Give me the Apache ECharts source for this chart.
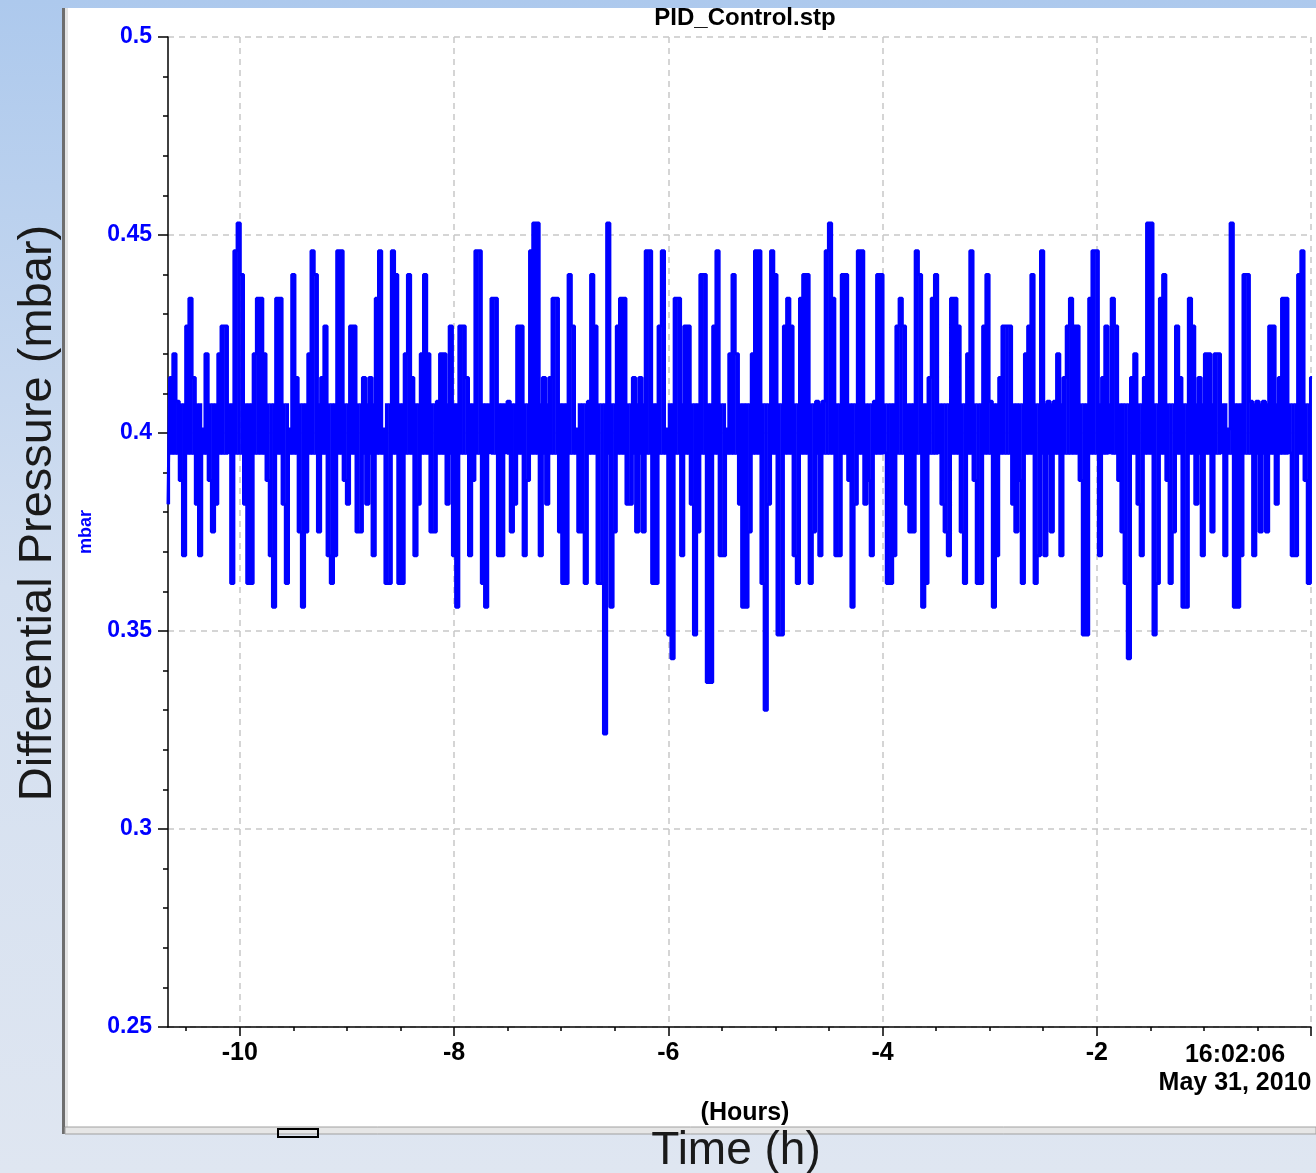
<!DOCTYPE html>
<html>
<head>
<meta charset="utf-8">
<title>PID_Control.stp</title>
<script src="https://cdn.jsdelivr.net/npm/echarts@6/dist/echarts.min.js"></script>
<style>
    html, body { margin: 0; padding: 0; }
    body { background: linear-gradient(to bottom, #adc9ed 0%, #d3dff0 50%, #dfe6f1 100%); }
    #main { width: 1316px; height: 1173px; }
</style>
</head>
<body>
<div id="main"></div>
<script>
// differential pressure (mbar), one sample every DT hours starting at T0
var T0 = -10.67, DT = 0.03;
// controller setpoint, the level the trace swings around, and one ADC count
var SETPOINT = 0.401, COUNT = 0.0065;

var dp1 = [.382,.414,.420,.408,.388,.369,.427,.434,.414,.382,.369,.401,.420,.388,.375,.382,.420,.427,.427,.395,.362,.446,.453,.440,.382,.362,.362,.420,.434,.434,.420,.388,.369,.356,.434,.434,.382,.362,.401,.440,.414,.375,.356,.375,.420,.446];
var dp2 = [.440,.375,.414,.427,.369,.362,.369,.446,.446,.388,.382,.427,.427,.375,.375,.414,.382,.414,.369,.434,.446,.401,.362,.362,.446,.440,.362,.362,.420,.440,.414,.369,.382,.420,.440,.420,.375,.375,.408,.420,.420,.382,.427,.369,.356];
var dp3 = [.427,.427,.414,.369,.388,.446,.446,.362,.356,.395,.434,.434,.369,.369,.395,.408,.375,.382,.427,.427,.369,.388,.446,.453,.453,.369,.414,.382,.414,.434,.434,.375,.362,.362,.440,.427,.401,.375,.375,.362,.408,.440,.427,.362,.362];
var dp4 = [.324,.453,.356,.375,.427,.434,.434,.382,.382,.414,.375,.414,.375,.446,.446,.362,.362,.427,.446,.401,.349,.343,.434,.434,.369,.427,.427,.382,.349,.375,.440,.440,.337,.337,.427,.446,.369,.369,.401,.420,.440,.420,.382,.356,.356];
var dp5 = [.375,.420,.446,.446,.362,.330,.382,.446,.440,.349,.349,.427,.434,.427,.369,.362,.434,.440,.440,.362,.375,.408,.369,.408,.446,.453,.434,.369,.369,.440,.440,.388,.356,.382,.446,.446,.382,.388,.369,.408,.440,.440,.395,.362,.362];
var dp6 = [.369,.427,.434,.427,.382,.375,.375,.446,.440,.356,.362,.414,.434,.440,.395,.382,.375,.369,.434,.434,.427,.375,.362,.420,.446,.388,.362,.362,.427,.440,.408,.356,.369,.414,.427,.427,.427,.382,.375,.388,.362,.420,.427,.440,.362,.369];
var dp7 = [.446,.369,.408,.375,.408,.420,.369,.414,.427,.434,.427,.427,.388,.349,.349,.434,.446,.446,.369,.414,.427,.395,.434,.427,.388,.375,.362,.343,.414,.420,.382,.369,.414,.453,.453,.349,.362,.434,.440,.388,.362,.375,.427,.414,.356];
var dp8 = [.356,.434,.427,.382,.414,.369,.420,.420,.375,.420,.420,.395,.369,.401,.453,.356,.356,.369,.440,.440,.408,.369,.408,.375,.408,.375,.427,.427,.382,.414,.434,.434,.395,.369,.369,.440,.446,.388,.362,.414];

var xMajor = [-10, -8, -6, -4, -2, 0];
var xMinor = [-10.5, -9.5, -9, -8.5, -7.5, -7, -6.5, -5.5, -5, -4.5, -3.5, -3, -2.5, -1.5, -1, -0.5];
var endTime = '16:02:06', endDate = 'May 31, 2010';

var FONT = 'Liberation Sans, Arial, sans-serif';
var BLUE = '#0000ff';

var values = dp1.concat(dp2, dp3, dp4, dp5, dp6, dp7, dp8);
var pts = [];
for (var i = 0; i < values.length; i++) {
    pts.push([T0 + i * DT, values[i]]);
}

// each sample drawn as a solid column from just across the setpoint to its value,
// the trace flickers a count around the setpoint so that strip plots solid
function renderSample(params, api) {
    var t = api.value(0), v = api.value(1);
    var base = v >= SETPOINT ? SETPOINT - COUNT : SETPOINT + COUNT;
    var a = api.coord([t - DT / 2, base]);
    var b = api.coord([t + DT / 2, v]);
    return {
        type: 'rect',
        shape: {x: a[0], y: Math.min(a[1], b[1]), width: b[0] - a[0] + 0.5, height: Math.abs(b[1] - a[1])},
        style: {fill: BLUE}
    };
}

var myChart = echarts.init(document.getElementById('main'));

var option = {
    animation: false,
    backgroundColor: 'transparent',
    grid: {
        left: 168, right: 5, top: 37, bottom: 146,
        containLabel: false,
        outerBoundsMode: 'none'
    },
    graphic: [
        // white window panel
        {type: 'rect', z: -10, shape: {x: 65, y: 8, width: 1251, height: 1120}, style: {fill: '#ffffff'}},
        {type: 'rect', z: -9, shape: {x: 62, y: 8, width: 3, height: 1126}, style: {fill: '#6e6e6e'}},
        {type: 'rect', z: -9, shape: {x: 65, y: 8, width: 3, height: 1120}, style: {fill: '#e4e4e4'}},
        {type: 'rect', z: -9, shape: {x: 65, y: 1127, width: 1251, height: 7}, style: {fill: '#e6e6e6', stroke: '#a0a0a0', lineWidth: 1}},
        {type: 'rect', z: -8, shape: {x: 278, y: 1129, width: 40, height: 8}, style: {fill: 'none', stroke: '#000', lineWidth: 2}},
        {type: 'text', z: 10, x: 745, y: 18, style: {text: 'PID_Control.stp', font: 'bold 24px ' + FONT, fill: '#000', align: 'center', verticalAlign: 'middle'}},
        {type: 'text', z: 10, x: 38, y: 513, rotation: Math.PI / 2, style: {text: 'Differential Pressure (mbar)', font: '47px ' + FONT, fill: '#1a1a1a', align: 'center', verticalAlign: 'middle'}},
        {type: 'text', z: 10, x: 736, y: 1151, style: {text: 'Time (h)', font: '46px ' + FONT, fill: '#1a1a1a', align: 'center', verticalAlign: 'middle'}}
    ],
    xAxis: [
        {
            type: 'value',
            min: T0, max: 0,
            position: 'bottom',
            name: '(Hours)',
            nameLocation: 'middle',
            nameGap: 71,
            nameTextStyle: {color: '#000', fontFamily: FONT, fontWeight: 'bold', fontSize: 25, padding: [0, 0, 0, 11]},
            axisLine: {show: true, onZero: false, lineStyle: {color: '#000', width: 1.5}},
            axisTick: {show: true, inside: false, length: 9, customValues: xMajor, lineStyle: {color: '#000', width: 1.5}},
            axisLabel: {
                customValues: xMajor,
                margin: 14,
                color: '#000', fontFamily: FONT, fontWeight: 'bold', fontSize: 25,
                formatter: function (v) {
                    if (v === 0) {
                        return '{d|' + endTime + '}{s| }\n{d|' + endDate + '}{s| }';
                    }
                    return String(v);
                },
                rich: {
                    d: {width: 152, align: 'center', color: '#000', fontFamily: FONT, fontWeight: 'bold', fontSize: 25, lineHeight: 28},
                    s: {width: 152, fontSize: 25, lineHeight: 28}
                }
            },
            splitLine: {show: true, lineStyle: {color: '#c8c8c8', width: 1.5, type: [6, 5]}}
        },
        {
            // half hour ticks
            type: 'value',
            min: T0, max: 0,
            position: 'bottom',
            axisLine: {show: false, onZero: false},
            axisLabel: {show: false},
            splitLine: {show: false},
            axisTick: {show: true, inside: false, length: 4, customValues: xMinor, lineStyle: {color: '#000', width: 1.5}}
        }
    ],
    yAxis: {
        type: 'value',
        min: 0.25, max: 0.5, interval: 0.05,
        name: 'mbar',
        nameLocation: 'middle',
        nameGap: 73,
        nameRotate: 90,
        nameTextStyle: {color: BLUE, fontFamily: FONT, fontWeight: 'bold', fontSize: 18},
        axisLine: {show: true, onZero: false, lineStyle: {color: '#000', width: 1.5}},
        axisTick: {show: true, inside: false, length: 10, lineStyle: {color: '#000', width: 1.5}},
        minorTick: {show: true, splitNumber: 5, length: 5, lineStyle: {color: '#000', width: 1.5}},
        axisLabel: {
            margin: 16,
            showMinLabel: true, showMaxLabel: true,
            color: BLUE, fontFamily: FONT, fontWeight: 'bold', fontSize: 23,
            formatter: function (v) { return String(parseFloat(v.toFixed(2))); }
        },
        splitLine: {show: true, lineStyle: {color: '#c8c8c8', width: 1.5, type: [6, 5]}}
    },
    series: [
        {
            name: 'mbar-fill',
            type: 'custom',
            xAxisIndex: 0,
            clip: true,
            renderItem: renderSample,
            encode: {x: 0, y: 1},
            data: pts,
            z: 2
        },
        {
            name: 'mbar',
            type: 'line',
            xAxisIndex: 0,
            step: 'middle',
            symbol: 'none',
            data: pts,
            lineStyle: {color: BLUE, width: 3},
            itemStyle: {color: BLUE},
            z: 3
        }
    ]
};
myChart.setOption(option);
</script>
</body>
</html>
